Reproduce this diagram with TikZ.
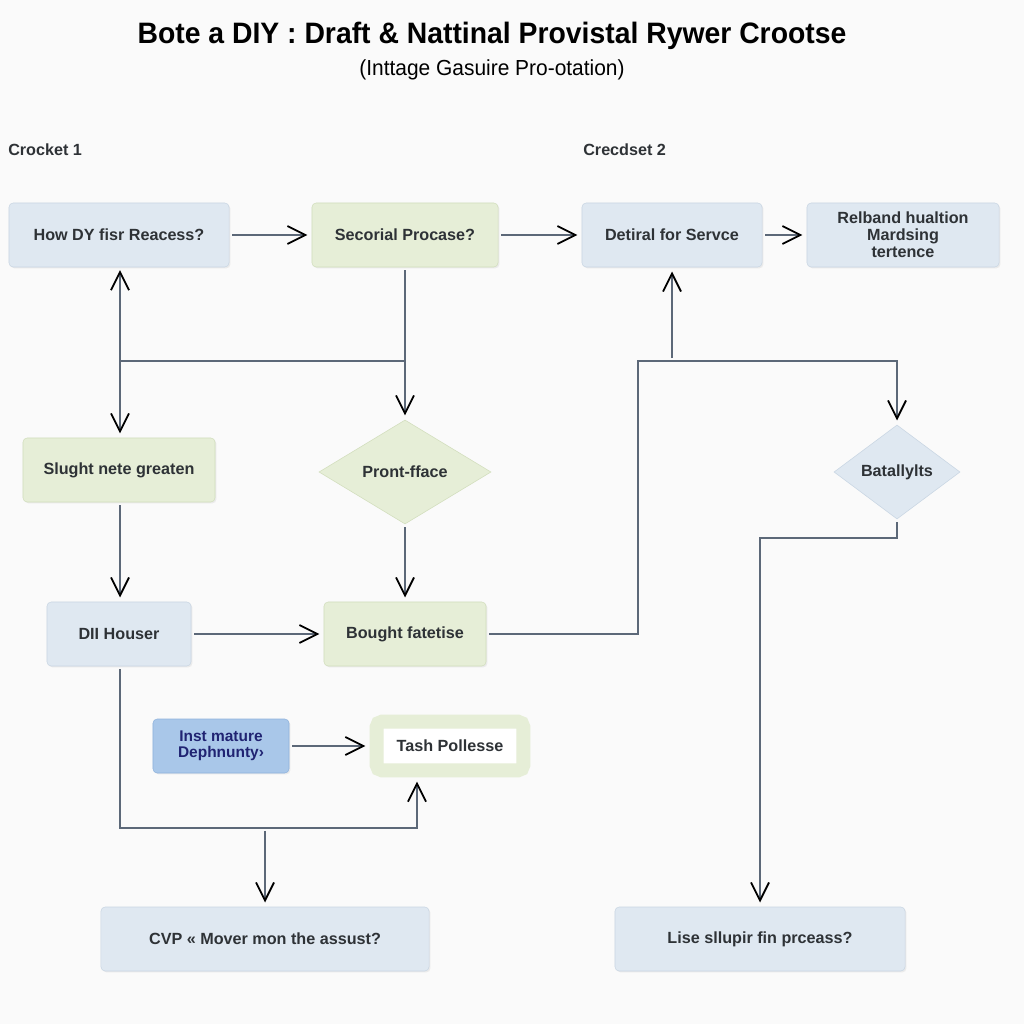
\documentclass[tikz,border=0pt]{standalone}
\usepackage{fontspec}
\setmainfont{Liberation Sans}
\newfontfamily\narrowfont{Liberation Sans}[FakeStretch=0.96]
\usetikzlibrary{arrows.meta,shapes.geometric,shadows}

\definecolor{bgpaper}{HTML}{FAFAFA}
\definecolor{boxblue}{HTML}{DFE8F1}
\definecolor{lineblue}{HTML}{C9D6E3}
\definecolor{boxgreen}{HTML}{E6EED7}
\definecolor{linegreen}{HTML}{D2DEBD}
\definecolor{deepblue}{HTML}{A9C7E9}
\definecolor{deepline}{HTML}{8FB2DC}
\definecolor{wire}{HTML}{5C6878}
\definecolor{ink}{HTML}{2E3236}

\begin{document}
\begin{tikzpicture}[x=0.025cm,y=-0.025cm,
    every node/.style={text=ink,font=\fontsize{11.5}{13}\selectfont\bfseries},
    bluebox/.style={rectangle,rounded corners=3pt,fill=boxblue,draw=lineblue,minimum height=1.6cm,
        drop shadow={shadow xshift=1pt,shadow yshift=-1pt,opacity=.12}},
    greenbox/.style={bluebox,fill=boxgreen,draw=linegreen},
    greendiam/.style={diamond,aspect=1.65,inner sep=0pt,fill=boxgreen,draw=linegreen},
    bluediam/.style={diamond,aspect=1.3,inner sep=0pt,fill=boxblue,draw=lineblue},
    arr/.style={wire,line width=1.3pt,shorten >=3pt,shorten <=2pt,
        -{Straight Barb[length=0.45cm,width=0.45cm,line width=1.3pt,color=black]}},
    arrb/.style={arr,{Straight Barb[length=0.45cm,width=0.45cm,line width=1.3pt,color=black]}-{Straight Barb[length=0.45cm,width=0.45cm,line width=1.3pt,color=black]}},
    wireline/.style={wire,line width=1.3pt}]

\fill[bgpaper] (0,0) rectangle (1024,1024);
\useasboundingbox (0,0) rectangle (1024,1024);

\node[text=black] (title) at (492,36) {\narrowfont\fontsize{21}{23}\selectfont\bfseries Bote a DIY : Draft \& Nattinal Provistal Rywer Crootse};
\node[text=black] (subtitle) at (492,70) {\narrowfont\fontsize{15.5}{17}\selectfont\mdseries (Inttage Gasuire Pro-otation)};
\node[anchor=west,inner sep=0pt] (lane1) at (8,150) {Crocket 1};
\node[anchor=west,inner sep=0pt] (lane2) at (583,150) {Crecdset 2};

\node[bluebox,minimum width=5.5cm] (how) at (119,235) {How DY fisr Reacess?};
\node[greenbox,minimum width=4.65cm] (secorial) at (405,235) {Secorial Procase?};
\node[bluebox,minimum width=4.5cm] (detiral) at (672,235) {Detiral for Servce};
\node[bluebox,minimum width=4.8cm,align=center,font=\fontsize{11.5}{12}\selectfont\bfseries] (relband) at (903,235) {Relband hualtion\\Mardsing\\tertence};

\node[greenbox,minimum width=4.8cm] (slught) at (119,470) {Slught nete greaten};
\node[greendiam,minimum width=4.3cm,minimum height=2.6cm] (pront) at (405,472) {Pront-fface};
\node[bluediam,minimum width=3.15cm,minimum height=2.35cm] (bat) at (897,472) {Batallylts};

\node[bluebox,minimum width=3.6cm] (dii) at (119,634) {DII Houser};
\node[greenbox,minimum width=4.05cm] (bought) at (405,634) {Bought fatetise};

\node[bluebox,fill=deepblue,draw=deepline,minimum width=3.4cm,minimum height=1.35cm,align=center,
    font=\fontsize{11}{11.5}\selectfont\bfseries,text=ink!70!blue] (inst) at (221,746) {Inst mature\\Dephnunty›};
\node[rectangle,rounded corners=4pt,fill=white,draw=boxgreen,line width=0.35cm,
    minimum width=3.67cm,minimum height=1.22cm] (tash) at (450,746) {Tash Pollesse};

\node[bluebox,minimum width=8.2cm] (cvp) at (265,939) {CVP « Mover mon the assust?};
\node[bluebox,minimum width=7.25cm] (lise) at (760,939) {Lise sllupir fin prceass?};

% junctions
\coordinate (jl) at (120,361);
\coordinate (jr) at (638,361);
\coordinate (jb) at (760,538);
\coordinate (jc) at (265,828);
\coordinate (jt) at (417,828);

% top row
\draw[arr] (how) -- (secorial);
\draw[arr] (secorial) -- (detiral);
\draw[arr] (detiral) -- (relband);

% left side
\draw[arrb] (how.south -| jl) -- (slught.north -| jl);
\draw[wireline] (jl) -- (secorial |- jl);
\draw[arr] (secorial) -- (pront);
\draw[arr] (slught.south -| jl) -- (dii.north -| jl);
\draw[arr] (pront) -- (bought);
\draw[arr] (dii) -- (bought);

% right side
\draw[arr] (bought) -| (jr) -| (bat);
\draw[arr] (detiral |- jr) -- (detiral);
\draw[arr] (bat) |- (jb) -- (lise);

% bottom
\draw[arr] (dii.south -| jl) |- (jt) -- (jt |- tash.south);
\draw[arr] (jc) -- (cvp);
\draw[arr] (inst) -- (tash);

\end{tikzpicture}
\end{document}
